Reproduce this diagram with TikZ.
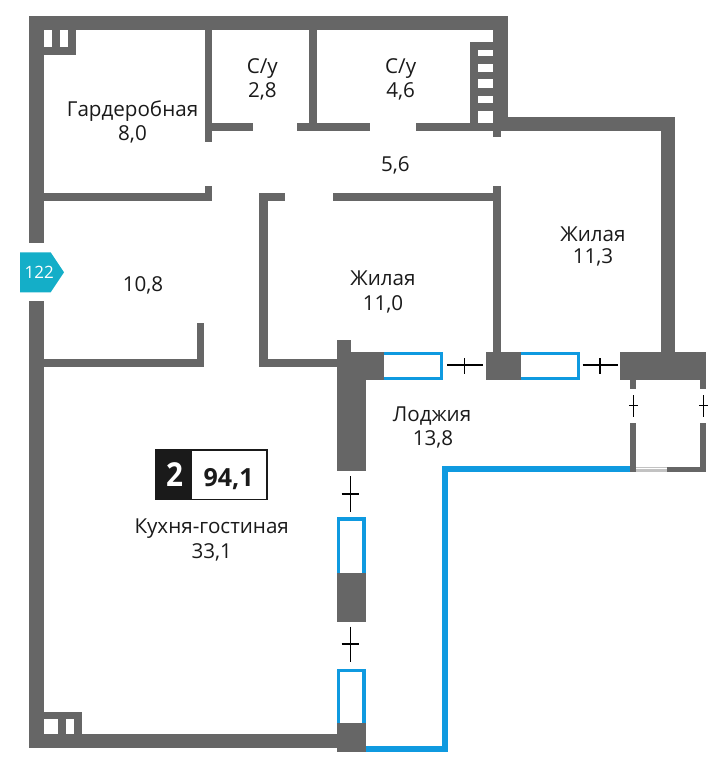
\documentclass[tikz,border=0pt]{standalone}
\usepackage{fontspec}
\setmainfont{Open Sans}
\definecolor{wallgray}{HTML}{666666}
\definecolor{winblue}{HTML}{0F9AE0}
\definecolor{tagteal}{HTML}{14AEC8}
\definecolor{inkblack}{HTML}{1A1A1A}
\newcommand\wl[4]{\fill[wallgray] (#1,#2) rectangle (#3,#4);}
\newcommand\hl[4]{\fill[white] (#1,#2) rectangle (#3,#4);}
\tikzset{
  lbl/.style={anchor=base,inner sep=0pt,text=inkblack,font=\fontsize{20.6}{24}\selectfont},
  win/.style={draw=winblue,line width=3.3pt,fill=white,miter limit=10},
  blueline/.style={draw=winblue,line width=5.4pt},
  crossline/.style={draw=black,line width=1.3pt}
}
\begin{document}
\begin{tikzpicture}[x=1pt,y=-1pt]
\useasboundingbox (0,0) rectangle (723,765);
% windows
\draw[win] (380,353.4) rectangle (441.3,378.3);
\draw[win] (516,353.4) rectangle (578.3,378.3);
\draw[win] (338.7,519) rectangle (364,580);
\draw[win] (338.7,670.4) rectangle (364,730);
% blue outer line
\draw[blueline] (365.7,748.8) -- (445,748.8) -- (445,468.8) -- (631,468.8);
% outer walls
\wl{29.3}{16}{507.7}{30.5}
\wl{29.3}{16}{44}{242.7}
\wl{29.3}{300.7}{44}{748.3}
\wl{29.3}{734}{337}{748.3}
\wl{493.3}{16}{507.7}{131}
\wl{493.3}{116.7}{675}{131}
\wl{660.7}{116.7}{675}{352}
% top-left vent
\wl{44}{30}{76}{54.7}
\hl{44}{30.5}{52.3}{46.7}
\hl{60}{30.5}{68.3}{46.7}
% bottom-left vent
\wl{44}{711.7}{81.7}{734}
\hl{44}{719}{58.3}{734}
\hl{66}{719}{74}{734}
% ladder
\wl{470}{42}{493.3}{123.5}
\hl{478}{50}{493.3}{56}
\hl{478}{64}{493.3}{71.7}
\hl{478}{79.3}{493.3}{88}
\hl{478}{95.7}{493.3}{102.7}
\hl{478}{110.7}{493.3}{123.3}
% inner walls, upper band
\wl{204.7}{30}{212.3}{141.7}
\wl{212}{123.3}{253}{131.3}
\wl{308.7}{30}{316.7}{124}
\wl{296.7}{123.3}{370}{131.3}
\wl{416}{123.3}{494}{131.3}
\wl{493.3}{130}{501}{136.7}
% inner walls, lower band
\wl{44}{192.7}{212.3}{200.7}
\wl{204.7}{186.3}{212.3}{200.7}
\wl{259.3}{192.7}{285}{200.7}
\wl{259.3}{192.7}{267.5}{366.7}
\wl{259.3}{359.3}{337}{366.7}
\wl{333.3}{192.7}{494}{200.7}
\wl{493.3}{186.3}{501}{352}
\wl{44}{359.3}{204.3}{367}
\wl{196.7}{322.7}{204.3}{367}
% masonry blocks
\wl{336.7}{340}{351}{352}
\wl{336.7}{351.7}{365.7}{471}
\wl{351}{351.7}{384}{380}
\wl{486}{351.7}{520.7}{380}
\wl{620}{351.7}{705.7}{380}
\wl{337}{573.3}{365.7}{622.3}
\wl{337}{723.3}{365.7}{751.7}
% balcony
\wl{630.3}{380}{635.8}{389.3}
\wl{700.3}{380}{705.7}{389.3}
\wl{630.3}{422.7}{635.8}{471.7}
\wl{700.3}{422.7}{705.7}{471.7}
\wl{630.3}{466.5}{705.7}{471.7}
\fill[wallgray!40] (636,466.5) rectangle (666.7,471.7);
\draw[white,line width=0.9pt] (636,468.6) -- (666.7,468.6);
% crosses
\draw[crossline] (447,365) -- (482.7,365) (464.3,358) -- (464.3,374.3);
\draw[crossline] (582.7,365) -- (618.3,365) (600,358) -- (600,374.3);
\draw[crossline] (629.3,405.7) -- (638.3,405.7) (633.7,395) -- (633.7,417.3);
\draw[crossline] (699,405.7) -- (708.3,405.7) (703.7,395) -- (703.7,417.3);
\draw[crossline] (341.7,494) -- (359.3,494) (350.7,476) -- (350.7,512.3);
\draw[crossline] (341.7,644) -- (359.3,644) (350.7,626.7) -- (350.7,662.3);
% entrance tag
\fill[tagteal] (20,252.3) -- (50.7,252.3) -- (64,272.3) -- (50.7,292.3) -- (20,292.3) -- cycle;
\node[anchor=base,inner sep=0pt,text=white,font=\fontsize{17}{20}\selectfont] (tag) at (39.3,278.3) {122};
% area badge
\draw[draw=inkblack,line width=1.4pt,fill=white] (156,450) rectangle (267,499.6);
\fill[inkblack] (155.3,449.3) rectangle (191.7,500.3);
\node[anchor=base,inner sep=0pt,text=white,font=\bfseries\fontsize{33}{36}\selectfont,xscale=0.9] (rooms) at (174.5,486.7) {2};
\node[anchor=base,inner sep=0pt,text=inkblack,font=\bfseries\fontsize{25}{28}\selectfont] (total) at (228.7,486.7) {94,1};
% room labels
\node[lbl] (r1a) at (132.5,116.7) {Гардеробная};
\node[lbl] (r1b) at (132.5,140.3) {8,0};
\node[lbl] (r2a) at (262.3,73.3) {С/у};
\node[lbl] (r2b) at (262.3,97.3) {2,8};
\node[lbl] (r3a) at (400.7,73.3) {С/у};
\node[lbl] (r3b) at (400.7,97.3) {4,6};
\node[lbl] (r4) at (395.3,171) {5,6};
\node[lbl] (r5a) at (593,241) {Жилая};
\node[lbl] (r5b) at (593,263.5) {11,3};
\node[lbl] (r6a) at (383,285) {Жилая};
\node[lbl] (r6b) at (383,310) {11,0};
\node[lbl] (r7) at (143,291) {10,8};
\node[lbl] (r8a) at (432,421) {Лоджия};
\node[lbl] (r8b) at (433,445.3) {13,8};
\node[lbl] (r9a) at (211.7,533) {Кухня-гостиная};
\node[lbl] (r9b) at (211.7,558) {33,1};
\end{tikzpicture}
\end{document}
